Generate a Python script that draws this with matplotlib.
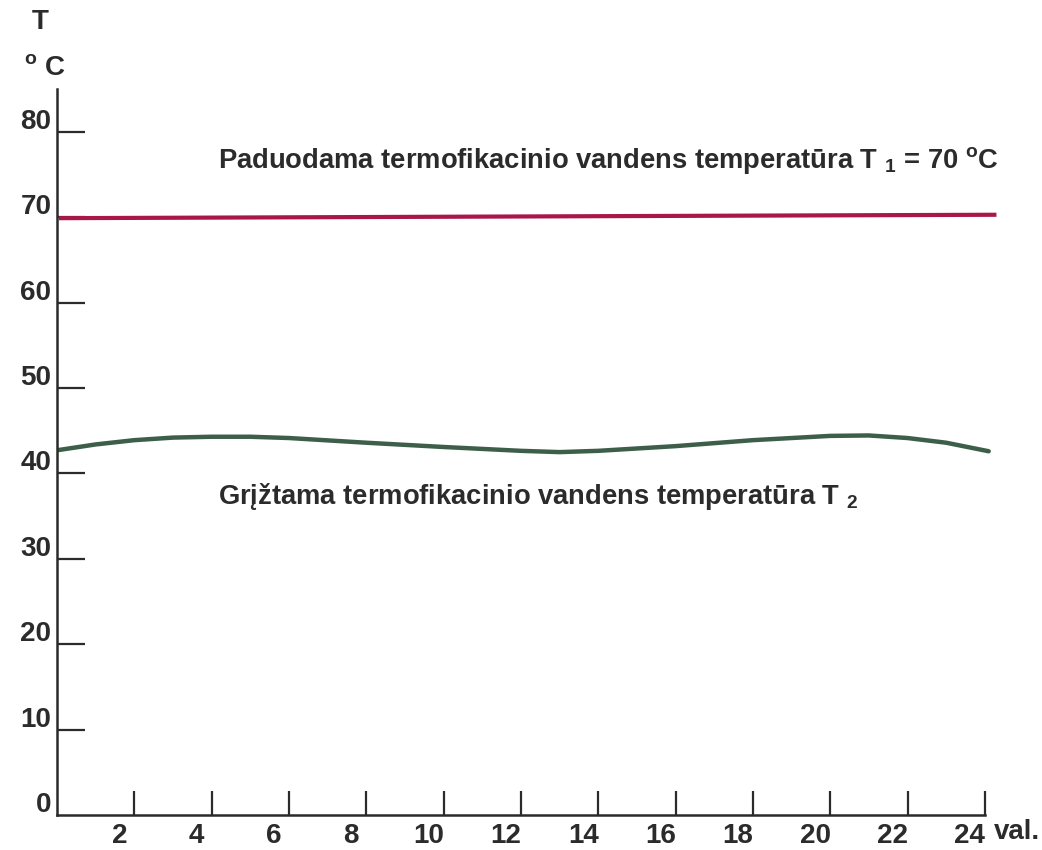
import matplotlib
matplotlib.use("Agg")
import matplotlib.pyplot as plt
import matplotlib.transforms as mtransforms
from matplotlib import font_manager as fm

# ---- data ----
hours_t1 = [0.05, 6, 12, 18, 24.3]
temp_t1 = [69.9, 70.0, 70.1, 70.2, 70.3]

hours_t2 = [0.05, 1, 2, 3, 4, 5, 6, 8, 10, 12, 13, 14, 16, 18, 20, 21, 22, 23, 24.1]
temp_t2 = [42.75, 43.4, 43.9, 44.2, 44.3, 44.3, 44.15, 43.6, 43.1, 42.65, 42.5, 42.65,
           43.2, 43.9, 44.4, 44.45, 44.15, 43.6, 42.6]

x_ticks = [2, 4, 6, 8, 10, 12, 14, 16, 18, 20, 22, 24]
x_ticklabels = ["2", "4", "6", "8", "10", "12", "14", "16", "18", "20", "22", "24"]
y_ticks = [0, 10, 20, 30, 40, 50, 60, 70, 80]
y_ticklabels = ["0", "10", "20", "30", "40", "50", "60", "70", "80"]

label_t1 = "Paduodama termofikacinio vandens temperatūra T"
label_t2 = "Grįžtama termofikacinio vandens temperatūra T"

# ---- font ----
names = {f.name for f in fm.fontManager.ttflist}
fam = "Liberation Sans Narrow" if "Liberation Sans Narrow" in names else "Liberation Sans"
plt.rcParams['font.family'] = [fam, 'DejaVu Sans']
plt.rcParams['font.weight'] = 'bold'
plt.rcParams['mathtext.fontset'] = 'custom'
plt.rcParams['mathtext.rm'] = fam + ':bold'
plt.rcParams['mathtext.bf'] = fam + ':bold'
plt.rcParams['mathtext.it'] = fam + ':bold'

TXT = '#2b2b2b'
FS = 20
fig = plt.figure(figsize=(10.42, 8.5), dpi=100)
ax = fig.add_axes([0.0547, 0.0412, 0.909, 0.8538])
ax.set_xlim(0, 24.5)
ax.set_ylim(0, 85)

ax.plot(hours_t1, temp_t1, color='#a8164a', lw=3.0, solid_capstyle='butt')
ax.plot(hours_t2, temp_t2, color='#3d5f4a', lw=3.2, solid_capstyle='round')

for s in ['top', 'right']:
    ax.spines[s].set_visible(False)
ax.spines['bottom'].set_bounds(0, 24)
for s in ['left', 'bottom']:
    ax.spines[s].set_color(TXT)
    ax.spines[s].set_linewidth(1.8)

ax.set_xticks(x_ticks)
ax.set_xticklabels(x_ticklabels)
ax.set_yticks(y_ticks)
ax.set_yticklabels(y_ticklabels)
ax.tick_params(axis='x', direction='in', length=17, width=1.6, color=TXT,
               labelsize=FS, labelcolor=TXT, pad=6)
ax.tick_params(axis='y', direction='in', length=20, width=1.6, color=TXT,
               labelsize=FS, labelcolor=TXT, pad=4)
ax.yaxis.get_major_ticks()[0].tick1line.set_visible(False)

for lab in ax.get_xticklabels():
    lab.set_transform(lab.get_transform() + mtransforms.ScaledTranslation(-0.15, 0, fig.dpi_scale_trans))
for lab in ax.get_yticklabels():
    lab.set_transform(lab.get_transform() + mtransforms.ScaledTranslation(0, 0.13, fig.dpi_scale_trans))

fig.text(994/1042, 1 - 832/850, "val.", fontsize=FS, color=TXT, ha='left', va='center')
fig.text(40/1042, 1 - 22/850, "T", fontsize=FS, color=TXT, ha='center', va='center')
fig.text(45/1042, 1 - 68/850, r"$^{\mathrm{o}}$ C", fontsize=FS, color=TXT, ha='center', va='center')

ax.text(218/1042, 1 - 160/850, label_t1 + r" $_{1}$ = 70 $^{\mathrm{o}}$C", transform=fig.transFigure,
        fontsize=19.7, color=TXT, ha='left', va='center')
ax.text(218/1042, 1 - 497/850, label_t2 + r" $_{2}$", transform=fig.transFigure,
        fontsize=19.7, color=TXT, ha='left', va='center')

fig.savefig("out.png", dpi=100, facecolor='white')
